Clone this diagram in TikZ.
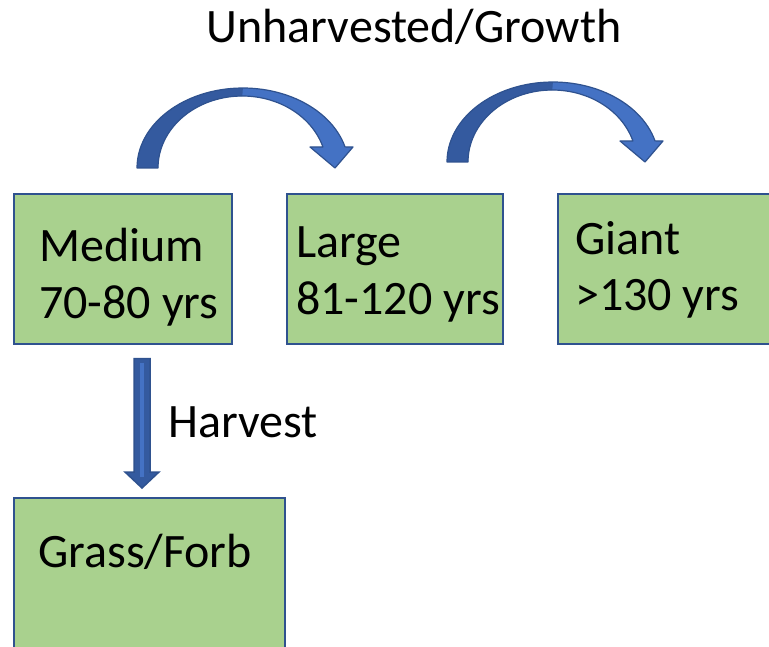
\documentclass[tikz,border=0pt]{standalone}
\usepackage{fontspec}
\setmainfont{Carlito}
\usetikzlibrary{calc}
\definecolor{boxfill}{HTML}{A9D18E}
\definecolor{boxline}{HTML}{2F528F}
\definecolor{arrowfill}{HTML}{4472C4}
\definecolor{arrowdark}{HTML}{345A9F}
\tikzset{
  box/.style={draw=boxline, line width=1.6pt, fill=boxfill, rectangle, inner sep=0pt, anchor=north west},
  lbl/.style={inner sep=0pt, anchor=base west, font=\fontsize{48}{57}\selectfont},
  curvarrow/.pic={
    \fill[arrowfill] plot[domain=180:344.7,samples=60] ({242.9+105.9*cos(\x)},{168+80*sin(\x)})
      -- (353,147) -- (335,168) -- (310,147)
      -- plot[domain=343.0:180,samples=60] ({242.3+84.3*cos(\x)},{168+72*sin(\x)}) -- cycle;
    \fill[arrowdark] plot[domain=180:270,samples=40] ({242.9+105.9*cos(\x)},{168+80*sin(\x)})
      -- plot[domain=270:180,samples=40] ({242.3+84.3*cos(\x)},{168+72*sin(\x)}) -- cycle;
    \draw[boxline, line width=1.2pt, line join=round] plot[domain=180:344.7,samples=60] ({242.9+105.9*cos(\x)},{168+80*sin(\x)})
      -- (353,147) -- (335,168) -- (310,147)
      -- plot[domain=343.0:180,samples=60] ({242.3+84.3*cos(\x)},{168+72*sin(\x)}) -- cycle;
  }
}
\begin{document}
\begin{tikzpicture}[x=1pt,y=-1pt]
\useasboundingbox (0,0) rectangle (769,647);
% boxes
\node[box, minimum width=218pt, minimum height=150pt] (med) at (13,193) {};
\node[box, minimum width=216pt, minimum height=150pt] (large) at (286,193) {};
\node[box, minimum width=218pt, minimum height=150pt] (giant) at (557,193) {};
\node[box, minimum width=271pt, minimum height=156pt] (grass) at (13,497) {};
% texts
\node[lbl, anchor=base] (title) at (414,43) {Unharvested/Growth};
\node[lbl] (t1a) at (39,262) {Medium};
\node[lbl] (t1b) at (39,319) {70-80 yrs};
\node[lbl] (t2a) at (296,258) {Large};
\node[lbl] (t2b) at (296,315) {81-120 yrs};
\node[lbl] (t3a) at (575,255) {Giant};
\node[lbl] (t3b) at (575,311) {>130 yrs};
\node[lbl] (t4a) at (38,567) {Grass/Forb};
\node[lbl] (harv) at (168,437) {Harvest};
% curved growth arrows
\pic at (0,0) {curvarrow};
\pic at (310,-6) {curvarrow};
% harvest arrow
\coordinate (h0) at ($(med.south west)+(129,14)$);
\coordinate (h1) at ($(grass.north west)+(129,-9)$);
\filldraw[fill=arrowdark, draw=boxline, line width=1.5pt, line join=miter]
  ($(h0)+(-8,0)$) -- ($(h1)+(-8,-16)$) -- ($(h1)+(-17,-16)$) -- (h1)
  -- ($(h1)+(17,-16)$) -- ($(h1)+(8,-16)$) -- ($(h0)+(8,0)$) -- cycle;
\draw[arrowfill, line width=4pt] ($(h0)+(0,4)$) -- ($(h1)+(0,-11)$);
\end{tikzpicture}
\end{document}
